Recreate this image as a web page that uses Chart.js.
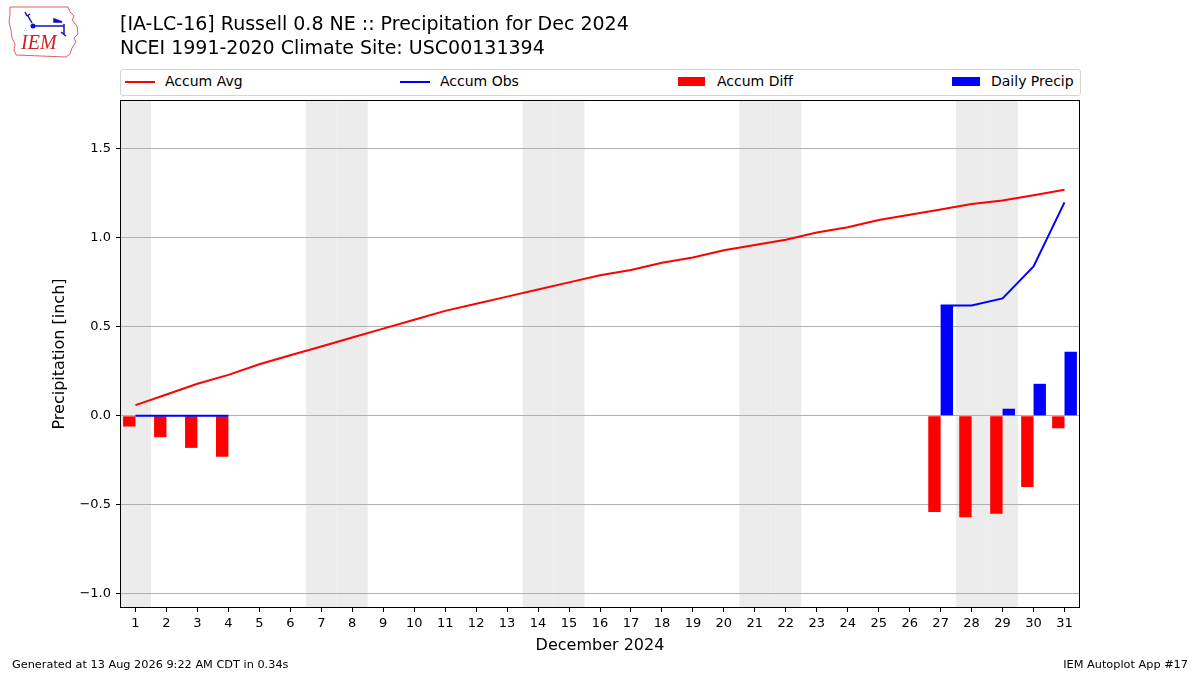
<!DOCTYPE html>
<html>
<head>
<meta charset="utf-8">
<script src="https://cdn.jsdelivr.net/npm/chart.js@4"></script>
<style>
  body { margin: 0; background: #fff; font-family: "DejaVu Sans", sans-serif; }
  #wrap { position: relative; width: 1200px; height: 675px; }
  #chart { position: absolute; left: 0; top: 0; }
  .t { position: absolute; white-space: nowrap; color: #000; }
  .legend { position: absolute; left: 120px; top: 69px; width: 959px; height: 25px;
            border: 1px solid #d4d4d4; border-radius: 3px; background: #fff; }
  .legend .h { position: absolute; }
  .legend .lbl { position: absolute; top: 3px; font-size: 14px; }
</style>
</head>
<body>
<div id="wrap">
  <canvas id="chart" width="1200" height="675"></canvas>
  <svg class="t" style="left:6px;top:4px" width="76" height="56" viewBox="0 0 76 56">
    <path d="M4 3 L62 3 L64 8 L68 12 L66 16 L71 22 L72 30 L68 34 L70 38 L66 44 L64 50 L60 53 L10 51 L8 46 L9 40 L6 34 L5 26 L3 18 L4 10 Z"
          fill="none" stroke="#e06060" stroke-width="1"/>
    <path d="M19 8 L21 12 M21 12 L24 10 M22 12 L26 19" stroke="#1010c0" stroke-width="1.5" fill="none"/>
    <circle cx="27" cy="22" r="2.5" fill="#1010c0"/>
    <path d="M27 22 L58 22 M48 15 L56 18 L48 18 Z M58 20 L58 30 M55 28 L60 32" stroke="#1010c0" stroke-width="1.5" fill="#1010c0"/>
    <text x="18" y="27" font-size="5" fill="#1010c0">∴</text>
    <text x="15" y="45" font-family="Liberation Serif, serif" font-style="italic" font-size="20" fill="#d02020">IEM</text>
  </svg>
  <div class="t" style="left:120px;top:12px;font-size:19px;">[IA-LC-16] Russell 0.8 NE :: Precipitation for Dec 2024</div>
  <div class="t" style="left:120px;top:36px;font-size:19px;">NCEI 1991-2020 Climate Site: USC00131394</div>
  <div class="legend">
    <div class="h" style="left:4px;top:11px;width:30px;height:2px;background:#ff0000"></div>
    <div class="lbl" style="left:44px">Accum Avg</div>
    <div class="h" style="left:279px;top:11px;width:30px;height:2px;background:#0000ff"></div>
    <div class="lbl" style="left:319px">Accum Obs</div>
    <div class="h" style="left:557px;top:7px;width:27px;height:9px;background:#ff0000"></div>
    <div class="lbl" style="left:596px">Accum Diff</div>
    <div class="h" style="left:831px;top:7px;width:28px;height:9px;background:#0000ff"></div>
    <div class="lbl" style="left:870px">Daily Precip</div>
  </div>
  <div class="t" style="left:12px;top:658px;font-size:11.3px;">Generated at 13 Aug 2026 9:22 AM CDT in 0.34s</div>
  <div class="t" style="right:12px;top:658px;font-size:11.3px;">IEM Autoplot App #17</div>
</div>
<script>
var days = [];
for (var d = 1; d <= 31; d++) days.push(String(d));

var accumAvg = [0.06, 0.12, 0.18, 0.23, 0.29, 0.34, 0.39, 0.44, 0.49, 0.54,
                0.59, 0.63, 0.67, 0.71, 0.75, 0.79, 0.82, 0.86, 0.89, 0.93,
                0.96, 0.99, 1.03, 1.06, 1.10, 1.13, 1.16, 1.19, 1.21, 1.24, 1.27];
var accumObs = [0, 0, 0, 0, null, null, null, null, null, null,
                null, null, null, null, null, null, null, null, null, null,
                null, null, null, null, null, null, 0.62, 0.62, 0.66, 0.84, 1.20];
var accumDiff = [-0.06, -0.12, -0.18, -0.23, null, null, null, null, null, null,
                 null, null, null, null, null, null, null, null, null, null,
                 null, null, null, null, null, null, -0.54, -0.57, -0.55, -0.40, -0.07];
var dailyPrecip = [0, 0, 0, 0, null, null, null, null, null, null,
                   null, null, null, null, null, null, null, null, null, null,
                   null, null, null, null, null, null, 0.62, 0, 0.04, 0.18, 0.36];
var weekendDays = [1, 7, 8, 14, 15, 21, 22, 28, 29];
var yTicks = [-1.0, -0.5, 0.0, 0.5, 1.0, 1.5];

Chart.defaults.font.family = "'DejaVu Sans', sans-serif";
Chart.defaults.color = "#000";

var weekendShade = {
    id: "weekendShade",
    beforeDraw: function (chart) {
        var ctx = chart.ctx, x = chart.scales.x, a = chart.chartArea;
        var w = x.width / days.length;
        ctx.save();
        ctx.fillStyle = "#ececec";
        weekendDays.forEach(function (d) {
            var cx = x.getPixelForValue(d - 1);
            ctx.fillRect(cx - w / 2, a.top, w, a.bottom - a.top);
        });
        ctx.restore();
    },
    afterDraw: function (chart) {
        var ctx = chart.ctx, a = chart.chartArea;
        ctx.save();
        ctx.strokeStyle = "#000";
        ctx.lineWidth = 1;
        ctx.strokeRect(a.left + 0.5, a.top + 0.5, a.right - a.left - 1, a.bottom - a.top - 1);
        ctx.restore();
    }
};

new Chart(document.getElementById("chart"), {
    type: "bar",
    data: {
        labels: days,
        datasets: [
            { type: "line", label: "Accum Avg", data: accumAvg, borderColor: "#ff0000",
              borderWidth: 2, pointRadius: 0, fill: false, tension: 0, order: 1 },
            { type: "line", label: "Accum Obs", data: accumObs, borderColor: "#0000ff",
              borderWidth: 2, pointRadius: 0, fill: false, tension: 0, spanGaps: false, order: 1 },
            { label: "Accum Diff", data: accumDiff, backgroundColor: "#ff0000",
              categoryPercentage: 0.8, barPercentage: 1.0, order: 2 },
            { label: "Daily Precip", data: dailyPrecip, backgroundColor: "#0000ff",
              categoryPercentage: 0.8, barPercentage: 1.0, order: 2 }
        ]
    },
    options: {
        responsive: false,
        animation: false,
        layout: { padding: { left: 50, right: 120, top: 100, bottom: 20 } },
        plugins: {
            legend: { display: false },
            tooltip: { enabled: false }
        },
        scales: {
            x: {
                offset: true,
                grid: { display: true, offset: false, drawOnChartArea: false, tickLength: 4, color: "#000" },
                border: { display: false },
                ticks: { autoSkip: false, maxRotation: 0, font: { size: 13 }, padding: 4 },
                title: { display: true, text: "December 2024", font: { size: 16 }, padding: { top: 2, bottom: 0 } },
                afterFit: function (s) { s.height = 47; }
            },
            y: {
                min: -1.08,
                max: 1.775,
                afterBuildTicks: function (s) { s.ticks = yTicks.map(function (v) { return { value: v }; }); },
                grid: { color: "#b0b0b0", tickColor: "#000", tickLength: 4 },
                border: { display: false },
                ticks: {
                    font: { size: 13 },
                    padding: 5,
                    callback: function (v) { return v.toFixed(1).replace("-", "\u2212"); }
                },
                title: { display: true, text: "Precipitation [inch]", font: { size: 16 }, padding: { top: 0, bottom: 0 } },
                afterFit: function (s) { s.width = 70; }
            }
        }
    },
    plugins: [weekendShade]
});
</script>
</body>
</html>
